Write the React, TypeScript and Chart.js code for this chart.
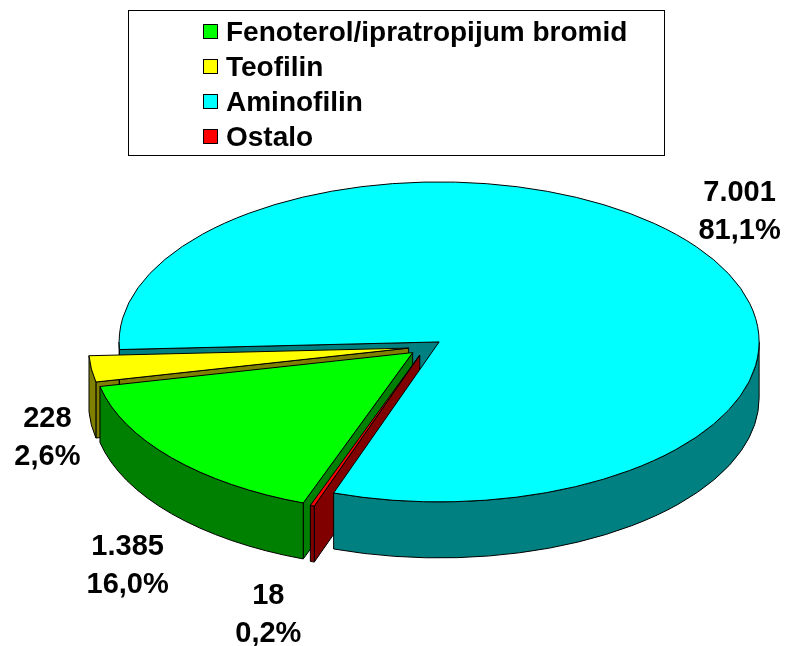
import React, { useEffect, useRef } from 'react';
import { Chart, registerables } from 'chart.js';

Chart.register(...registerables);

// ---- data ----
const categories = ['Fenoterol/ipratropijum bromid', 'Teofilin', 'Aminofilin', 'Ostalo'];
const values = [1385, 228, 7001, 18];

// ---- styles ----
const topColors = ['#00FF00', '#FFFF00', '#00FFFF', '#FF0000'];
const sideColors = ['#008000', '#808000', '#008080', '#800000'];

const TILT = 0.5; // vertical squash of the pie disc
const DEPTH = 56; // thickness of the pie
const EXPLODE = 17; // explosion distance
const FONT = '"Liberation Sans", Arial, Helvetica, sans-serif';

const total = values.reduce((a, b) => a + b, 0);
const fmtThousands = (v: number) => String(v).replace(/\B(?=(\d{3})+(?!\d))/g, '.');
const fmtPct = (v: number) => (v / total * 100).toFixed(1).replace('.', ',') + '%';

type Geo = { i: number; cx: number; cy: number; s: number; e: number; rx: number; ry: number; mid: number };

function getGeo(chart: any): Geo[] {
  const meta = chart.getDatasetMeta(0);
  return meta.data.map((el: any, i: number) => {
    const mid = (el.startAngle + el.endAngle) / 2;
    return {
      i,
      cx: el.x + Math.cos(mid) * EXPLODE,
      cy: el.y + Math.sin(mid) * EXPLODE * TILT,
      s: el.startAngle,
      e: el.endAngle,
      rx: el.outerRadius,
      ry: el.outerRadius * TILT,
      mid,
    };
  });
}

const pie3d = {
  id: 'pie3d',
  beforeDatasetsDraw(chart: any) {
    const ctx: CanvasRenderingContext2D = chart.ctx;
    const meta = chart.getDatasetMeta(0);
    const geo = getGeo(chart);
    ctx.save();
    ctx.lineWidth = 1;
    ctx.strokeStyle = '#000';
    ctx.lineJoin = 'round';

    // radial faces (visible ones), back to front
    const radial: { g: Geo; a: number; key: number }[] = [];
    geo.forEach((g) => {
      if (Math.cos(g.s) < 0) radial.push({ g, a: g.s, key: g.cy + 0.5 * g.ry * Math.sin(g.s) });
      if (Math.cos(g.e) > 0) radial.push({ g, a: g.e, key: g.cy + 0.5 * g.ry * Math.sin(g.e) });
    });
    radial.sort((p, q) => p.key - q.key);
    radial.forEach(({ g, a }) => {
      const ex = g.cx + g.rx * Math.cos(a);
      const ey = g.cy + g.ry * Math.sin(a);
      ctx.beginPath();
      ctx.moveTo(g.cx, g.cy);
      ctx.lineTo(ex, ey);
      ctx.lineTo(ex, ey + DEPTH);
      ctx.lineTo(g.cx, g.cy + DEPTH);
      ctx.closePath();
      ctx.fillStyle = sideColors[g.i];
      ctx.fill();
      ctx.stroke();
    });

    // outer (curved) faces on the front half
    const outer: { g: Geo; a1: number; a2: number; key: number }[] = [];
    geo.forEach((g) => {
      for (let n = -1; n <= 2; n++) {
        const lo = Math.max(g.s, 2 * Math.PI * n);
        const hi = Math.min(g.e, 2 * Math.PI * n + Math.PI);
        if (hi > lo) outer.push({ g, a1: lo, a2: hi, key: g.cy + g.ry * Math.sin((lo + hi) / 2) });
      }
    });
    outer.sort((p, q) => p.key - q.key);
    outer.forEach(({ g, a1, a2 }) => {
      ctx.beginPath();
      ctx.ellipse(g.cx, g.cy, g.rx, g.ry, 0, a1, a2, false);
      ctx.lineTo(g.cx + g.rx * Math.cos(a2), g.cy + g.ry * Math.sin(a2) + DEPTH);
      ctx.ellipse(g.cx, g.cy + DEPTH, g.rx, g.ry, 0, a2, a1, true);
      ctx.closePath();
      ctx.fillStyle = sideColors[g.i];
      ctx.fill();
      ctx.stroke();
    });

    // top faces: drawn by Chart.js arc elements, squashed and exploded
    meta.data.forEach((el: any, i: number) => {
      const g = geo[i];
      ctx.save();
      ctx.translate(g.cx, g.cy);
      ctx.scale(1, TILT);
      ctx.translate(-el.x, -el.y);
      el.draw(ctx);
      ctx.restore();
      ctx.beginPath();
      ctx.moveTo(g.cx, g.cy);
      ctx.lineTo(g.cx + g.rx * Math.cos(g.s), g.cy + g.ry * Math.sin(g.s));
      ctx.ellipse(g.cx, g.cy, g.rx, g.ry, 0, g.s, g.e, false);
      ctx.closePath();
      ctx.lineWidth = 1;
      ctx.strokeStyle = '#000';
      ctx.stroke();
    });
    ctx.restore();
    return false;
  },
  afterDraw(chart: any) {
    const ctx: CanvasRenderingContext2D = chart.ctx;
    const geo = getGeo(chart);
    ctx.save();
    // data labels, placed beside the slice's outer edge at its mid angle
    ctx.fillStyle = '#000';
    ctx.font = `bold 29px ${FONT}`;
    ctx.textAlign = 'center';
    ctx.textBaseline = 'alphabetic';
    geo.forEach((g) => {
      const c = Math.cos(g.mid);
      const s = Math.sin(g.mid);
      const edgeX = g.cx + c * g.rx;
      const edgeY = g.cy + s * g.ry + (s > 0 ? DEPTH : 0);
      const lx = edgeX + Math.sign(c) * 44;
      const ly = edgeY + 50 * Math.max(-0.75, Math.min(1, 1.5 * s));
      ctx.fillText(fmtThousands(values[g.i]), lx, ly - 8);
      ctx.fillText(fmtPct(values[g.i]), lx, ly + 30);
    });

    // legend
    const boxL = 128, boxT = 10, boxW = 536, boxH = 145;
    ctx.lineWidth = 1;
    ctx.strokeStyle = '#000';
    ctx.strokeRect(boxL + 0.5, boxT + 0.5, boxW, boxH);
    ctx.font = `bold 28px ${FONT}`;
    ctx.textAlign = 'left';
    categories.forEach((name, i) => {
      const base = 41 + i * 35;
      ctx.fillStyle = topColors[i];
      ctx.fillRect(203, base - 17, 15, 15);
      ctx.strokeRect(203.5, base - 16.5, 14, 14);
      ctx.fillStyle = '#000';
      ctx.fillText(name, 226, base);
    });
    ctx.restore();
  },
};

export default function App() {
  const ref = useRef<HTMLCanvasElement | null>(null);
  useEffect(() => {
    if (!ref.current) return;
    const chart = new Chart(ref.current, {
      type: 'pie',
      data: {
        labels: categories,
        datasets: [
          {
            data: values,
            backgroundColor: topColors,
            borderWidth: 0,
            offset: 0,
            hoverOffset: 0,
          },
        ],
      },
      options: {
        responsive: false,
        devicePixelRatio: 1,
        animation: false,
        rotation: 200,
        radius: 320,
        layout: { padding: { left: 54, top: 48, right: 0, bottom: 0 } },
        events: [],
        plugins: {
          legend: { display: false },
          tooltip: { enabled: false },
        },
      },
      plugins: [pie3d],
    } as any);
    return () => chart.destroy();
  }, []);
  return (
    <div style={{ position: 'absolute', left: 0, top: 0, width: 797, height: 646, background: '#fff' }}>
      <canvas ref={ref} width={797} height={646} />
    </div>
  );
}
